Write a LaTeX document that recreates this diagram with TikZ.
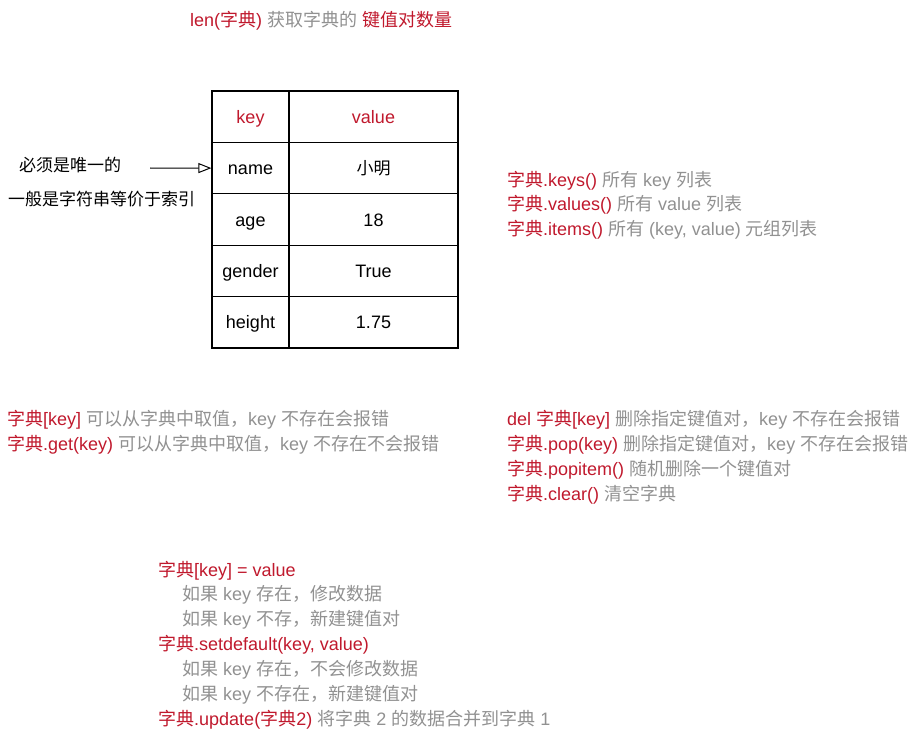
\documentclass[tikz,border=0pt]{standalone}
\usepackage{fontspec}
\setmainfont{Noto Sans CJK SC}
\newfontfamily\latin{Liberation Sans}
\usetikzlibrary{arrows.meta,positioning}
\definecolor{keyred}{RGB}{192,25,45}
\definecolor{notegray}{RGB}{145,145,145}
\newcommand{\rd}[1]{\textcolor{keyred}{#1}}
\newcommand{\gr}[1]{\textcolor{notegray}{#1}}
\newcommand{\la}[1]{{\latin #1}}

\begin{document}
\begin{tikzpicture}[x=1pt,y=-1pt,
  every node/.style={font=\fontsize{18}{21}\selectfont},
  line/.style={anchor=west,inner sep=0pt},
  note/.style={anchor=west,inner sep=0pt,font=\fontsize{17}{20}\selectfont},
  cell/.style={draw,line width=1.2pt,inner sep=0pt,minimum height=51.4pt,
    text height=13pt,text depth=0pt,font=\fontsize{18}{21}\selectfont\latin}]
\useasboundingbox (0,0) rectangle (920,738);

% title
\node[line] (title) at (190,21) {\rd{\la{len(}字典\la{) }}\gr{获取字典的\la{ }}\rd{键值对数量}};

% the table
\node[cell,minimum width=77pt] (key0) at (250.5,116.7) {\rd{key}};
\node[cell,minimum width=169pt] (val0) at (373.5,116.7) {\rd{value}};
\foreach \k/\v [count=\i] in {name/{\rmfamily\fontsize{17}{20}\selectfont 小明}, age/18, gender/True, height/1.75}{
  \node[cell,minimum width=77pt] (key\i) at (250.5,{116.7+51.4*\i}) {\k};
  \node[cell,minimum width=169pt] (val\i) at (373.5,{116.7+51.4*\i}) {\v};
}

% notes on the key column
\node[note] (uniq) at (19,165.5) {必须是唯一的};
\node[note] (strkey) at (8,199.5) {一般是字符串等价于索引};
\coordinate (arrowfrom) at (150,168);
\draw[line width=1pt,-{Triangle[open,length=13pt,width=10pt]}] (arrowfrom) -- (key1.west);

% keys, values, items
\node[line] (keys) at (507,180.5) {\rd{字典\la{.keys() }}\gr{所有\la{ key }列表}};
\node[line] (values) at (507,205) {\rd{字典\la{.values() }}\gr{所有\la{ value }列表}};
\node[line] (items) at (507,229.5) {\rd{字典\la{.items() }}\gr{所有\la{ (key, value) }元组列表}};

% reading
\node[line] (getkey) at (7,419.5) {\rd{字典\la{[key] }}\gr{可以从字典中取值，\la{key }不存在会报错}};
\node[line] (getmeth) at (7,444.5) {\rd{字典\la{.get(key) }}\gr{可以从字典中取值，\la{key }不存在不会报错}};

% deleting
\node[line] (delkey) at (507,419.5) {\rd{\la{del }字典\la{[key] }}\gr{删除指定键值对，\la{key }不存在会报错}};
\node[line] (pop) at (507,444.5) {\rd{字典\la{.pop(key) }}\gr{删除指定键值对，\la{key }不存在会报错}};
\node[line] (popitem) at (507,469.5) {\rd{字典\la{.popitem() }}\gr{随机删除一个键值对}};
\node[line] (clear) at (507,494.5) {\rd{字典\la{.clear() }}\gr{清空字典}};

% writing
\node[line] (setkey) at (158,570.5) {\rd{字典\la{[key] = value}}};
\node[line] (setkeya) at (182,595) {\gr{如果\la{ key }存在，修改数据}};
\node[line] (setkeyb) at (182,619.5) {\gr{如果\la{ key }不存，新建键值对}};
\node[line] (setdef) at (158,644.5) {\rd{字典\la{.setdefault(key, value)}}};
\node[line] (setdefa) at (182,669.5) {\gr{如果\la{ key }存在，不会修改数据}};
\node[line] (setdefb) at (182,694.5) {\gr{如果\la{ key }不存在，新建键值对}};
\node[line] (update) at (158,719.5) {\rd{字典\la{.update(}字典\la{2) }}\gr{将字典\la{ 2 }的数据合并到字典\la{ 1}}};
\end{tikzpicture}
\end{document}
